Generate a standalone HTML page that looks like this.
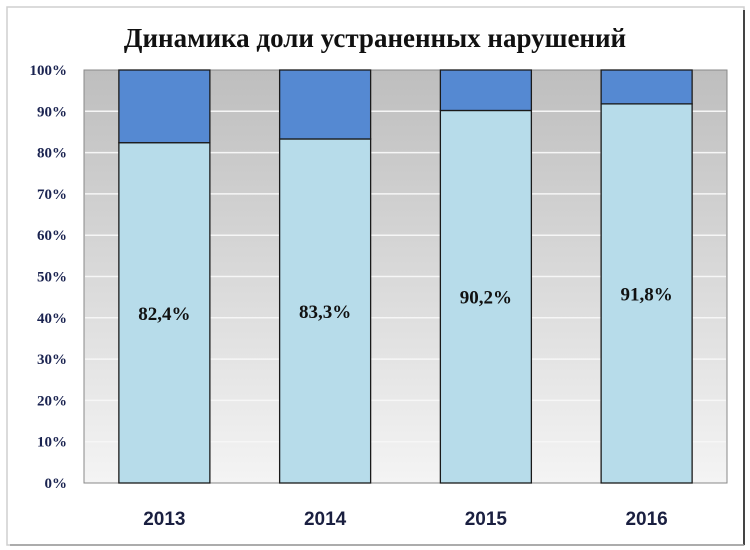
<!DOCTYPE html>
<html><head><meta charset="utf-8"><style>
html,body{margin:0;padding:0;background:#fff;}
svg{display:block;}
</style></head><body>
<svg width="750" height="550" xmlns="http://www.w3.org/2000/svg">
<defs>
<linearGradient id="bg" x1="0" y1="0" x2="0" y2="1">
<stop offset="0" stop-color="#bebebe"/><stop offset="0.55" stop-color="#dcdcdc"/><stop offset="1" stop-color="#f4f4f4"/>
</linearGradient>
</defs>
<rect x="7" y="7" width="737" height="538" fill="#fff" stroke="#cfcfcf" stroke-width="1.5"/>
<line x1="744" y1="10" x2="744" y2="545" stroke="#444" stroke-width="2"/>
<line x1="10" y1="545" x2="744" y2="545" stroke="#999" stroke-width="1.5"/>
<text x="375" y="47" text-anchor="middle" font-family="Liberation Serif, serif" font-weight="bold" font-size="27" fill="#111">Динамика доли устраненных нарушений</text>
<rect x="84" y="70" width="643" height="413" fill="url(#bg)" stroke="#888" stroke-width="1"/>
<g id="grid"></g><g id="bars"></g><g id="yaxis"></g><g id="xaxis"></g>
</svg>
<script>
const categories = ["2013","2014","2015","2016"];
const fixedShare = [82.4, 83.3, 90.2, 91.8];
const valueLabels = ["82,4%","83,3%","90,2%","91,8%"];
const yTicks = [0,10,20,30,40,50,60,70,80,90,100];
const NS="http://www.w3.org/2000/svg";
const L=84,R=727,T=70,B=483;
const y=v=>B-(v/100)*(B-T);
const band=(R-L)/categories.length;
const xc=i=>L+band*(i+0.5);
const bw=91;
function mk(tag,attrs,parent,text){const e=document.createElementNS(NS,tag);for(const k in attrs)e.setAttribute(k,attrs[k]);if(text!==undefined)e.textContent=text;document.getElementById(parent).appendChild(e);return e;}
yTicks.forEach(t=>{
  if(t>0&&t<100){const g=mk('line',{x1:L+1,x2:R-1,y1:y(t),y2:y(t),stroke:'#f6f6f6','stroke-width':1.5},'grid');
  
  }
  const tx=mk('text',{x:67,y:y(t)+5,'text-anchor':'end','font-family':'Liberation Serif, serif','font-weight':'bold','font-size':15,fill:'#1a2350'},'yaxis',t+'%');
  
  
});
categories.forEach((c,i)=>{
  const v=fixedShare[i];
  const lo=mk('rect',{x:xc(i)-bw/2,y:y(v),width:bw,height:B-y(v),fill:'#b7dcea',stroke:'#1a1a1a','stroke-width':1.3},'bars');
  
  
  const hi=mk('rect',{x:xc(i)-bw/2,y:y(100),width:bw,height:y(v)-y(100),fill:'#5589d2',stroke:'#1a1a1a','stroke-width':1.3},'bars');
  
  
  const lb=mk('text',{x:xc(i),y:(y(v)+B)/2+7,'text-anchor':'middle','font-family':'Liberation Serif, serif','font-weight':'bold','font-size':19,fill:'#111'},'bars',valueLabels[i]);
  
  
  const xl=mk('text',{x:xc(i),y:525,'text-anchor':'middle','font-family':'Liberation Sans, sans-serif','font-weight':'bold','font-size':19,fill:'#1a1f40'},'xaxis',c);
  
  
});
</script>
</body></html>
